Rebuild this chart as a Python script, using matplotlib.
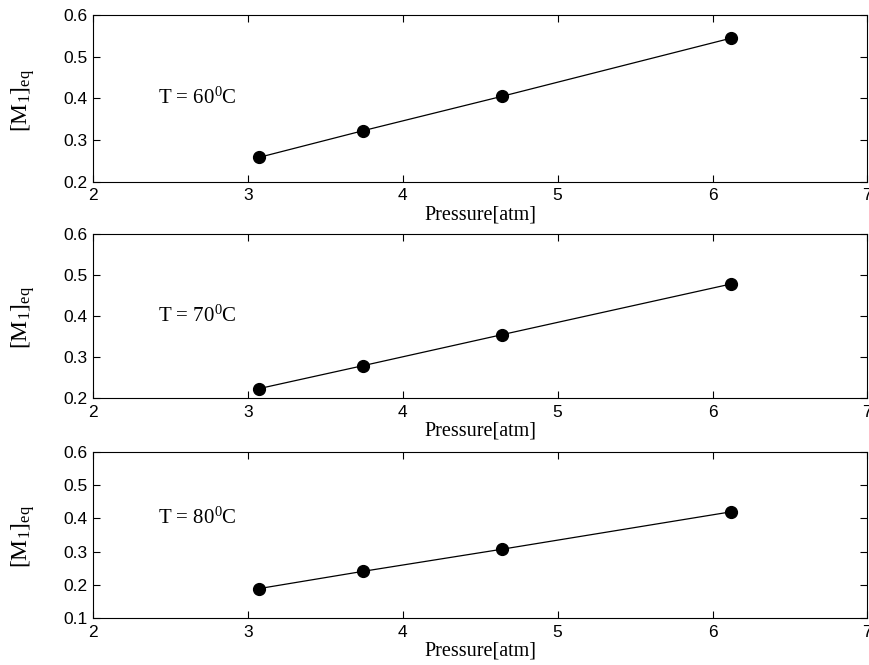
import numpy as np
import matplotlib
matplotlib.use('Agg')
import matplotlib.pyplot as plt

plt.rcParams['font.family'] = 'Liberation Sans'
plt.rcParams['mathtext.fontset'] = 'custom'
plt.rcParams['mathtext.rm'] = 'Liberation Serif'
plt.rcParams['mathtext.it'] = 'Liberation Serif:italic'
plt.rcParams['axes.linewidth'] = 0.8

pressure = [3.07, 3.74, 4.64, 6.12]
m1_60 = [0.258, 0.322, 0.405, 0.545]
m1_70 = [0.222, 0.278, 0.354, 0.478]
m1_80 = [0.188, 0.240, 0.307, 0.420]

temps = ['60', '70', '80']
series = [m1_60, m1_70, m1_80]
ylims = [(0.2, 0.6), (0.2, 0.6), (0.1, 0.6)]

fig = plt.figure(figsize=(8.7, 6.65), dpi=100)
# [left, bottom, width, height] for the three stacked panels
boxes = [
    [0.107, 0.727, 0.890, 0.250],
    [0.107, 0.402, 0.890, 0.246],
    [0.107, 0.071, 0.890, 0.249],
]

for box, t, y, (ylo, yhi) in zip(boxes, temps, series, ylims):
    ax = fig.add_axes(box)
    ax.plot(pressure, y, '-', color='k', linewidth=0.9,
            marker='o', markersize=8.5, markerfacecolor='k')
    ax.set_xlim(2, 7)
    ax.set_ylim(ylo, yhi)
    ax.set_xticks([2, 3, 4, 5, 6, 7])
    ax.set_yticks(np.round(np.arange(ylo, yhi + 0.01, 0.1), 1))
    ax.tick_params(direction='in', top=True, right=True, length=5,
                   width=0.8, labelsize=12.5)
    ax.tick_params(axis='x', pad=5)
    ax.tick_params(axis='y', pad=4)
    ax.text(2.42, 0.4, 'T = ' + t + r'$^{0}$C',
            fontsize=15, family='Liberation Serif', va='center', ha='left')
    ax.set_xlabel('Pressure[atm]', fontsize=14.5, family='Liberation Serif')
    ax.xaxis.set_label_coords(0.5, -0.145)
    ax.set_ylabel(r'$[\mathrm{M}_{1}]_{\mathrm{eq}}$', fontsize=17)
    ax.yaxis.set_label_coords(-0.072, 0.49)

fig.savefig('out.png', dpi=100)
